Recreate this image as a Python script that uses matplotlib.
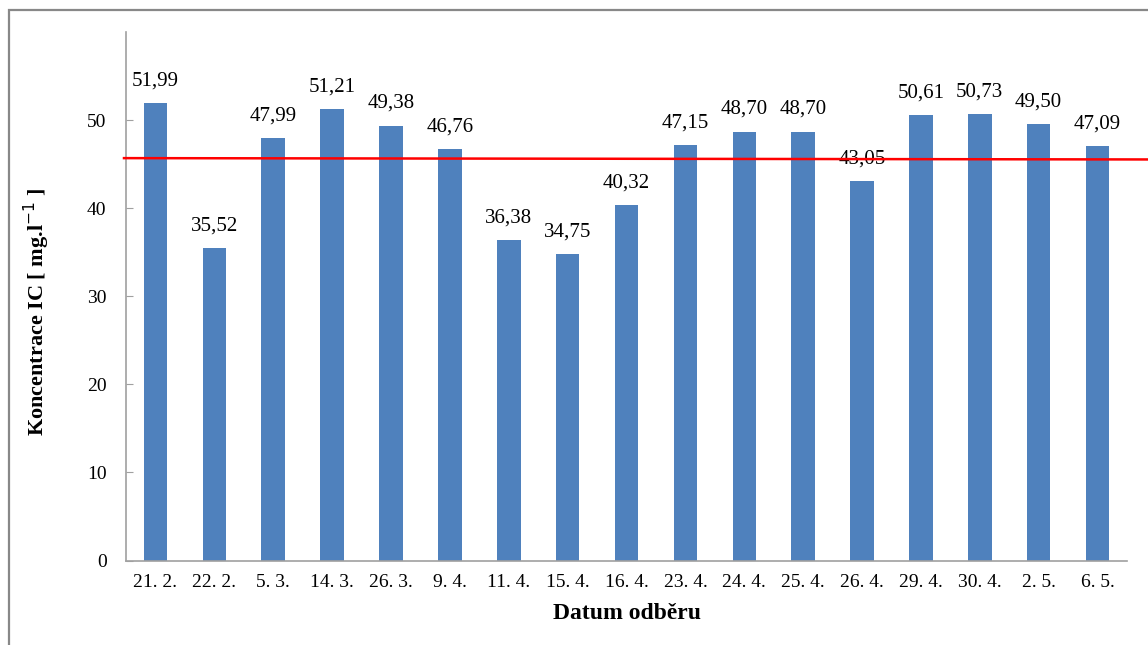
import matplotlib.pyplot as plt
import numpy as np
from matplotlib.patches import Rectangle
from matplotlib.lines import Line2D
from matplotlib.transforms import blended_transform_factory

# Data
dates = ["21. 2.", "22. 2.", "5. 3.", "14. 3.", "26. 3.", "9. 4.", "11. 4.", "15. 4.",
         "16. 4.", "23. 4.", "24. 4.", "25. 4.", "26. 4.", "29. 4.", "30. 4.", "2. 5.", "6. 5."]
ic = [51.99, 35.52, 47.99, 51.21, 49.38, 46.76, 36.38, 34.75,
      40.32, 47.15, 48.70, 48.70, 43.05, 50.61, 50.73, 49.50, 47.09]
limit_line = [45.68, 45.53]  # red reference line, start/end

plt.rcParams['font.family'] = ['Liberation Serif', 'DejaVu Serif']

fig = plt.figure(figsize=(11.48, 6.45), dpi=100)
ax = fig.add_axes([0.1098, 0.131, 0.8719, 0.8194])

x = np.arange(len(dates))
bars = ax.bar(x, ic, width=0.4, color='#4F81BD', zorder=2)

for xi, v in zip(x, ic):
    ax.annotate(f"{v:.2f}".replace('.', ','), (xi, v), xytext=(0, 9),
                textcoords='offset points', ha='center', va='bottom', fontsize=15)

ax.set_xlim(-0.5, len(dates) - 0.5)
ax.set_ylim(0, 60)
ax.set_yticks(range(0, 51, 10))
ax.set_xticks(x)
ax.set_xticklabels(dates)
ax.tick_params(axis='y', direction='in', length=5, color='#A0A0A0', labelsize=14, pad=14)
ax.tick_params(axis='x', length=0, labelsize=14, pad=10)

for s in ['top', 'right']:
    ax.spines[s].set_visible(False)
for s in ['left', 'bottom']:
    ax.spines[s].set_color('#A0A0A0')
    ax.spines[s].set_linewidth(1.2)

ax.set_ylabel("Koncentrace IC [ mg.l$^{-1}$ ]", fontsize=16, fontweight='bold')
ax.yaxis.set_label_coords(-0.074, 0.47)
ax.set_xlabel("Datum odběru", fontsize=17, fontweight='bold')
ax.xaxis.set_label_coords(0.5, -0.08)

# red line from the y axis out to the right edge
trans = blended_transform_factory(fig.transFigure, ax.transData)
fig.add_artist(Line2D([124 / 1148, 1.0], limit_line, transform=trans,
                      color='#FF0000', lw=1.8, clip_on=False))

# chart frame
fig.add_artist(Rectangle((9 / 1148, -0.1), 1.2, 1 - 10 / 645 + 0.1,
                         transform=fig.transFigure, fill=False,
                         edgecolor='#888888', lw=1.6))

fig.savefig("out.png", dpi=100)
